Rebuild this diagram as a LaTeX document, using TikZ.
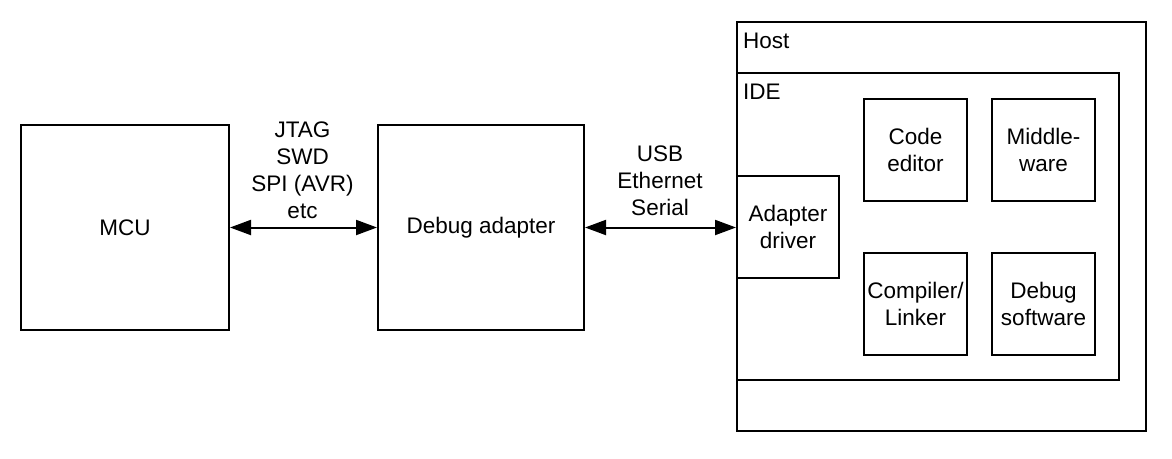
\documentclass[tikz,border=0pt]{standalone}
\usepackage{fontspec}
\setmainfont{Liberation Sans}
\usetikzlibrary{arrows.meta,positioning}
\begin{document}
\begin{tikzpicture}[x=1pt,y=-1pt,
  box/.style={draw=black,line width=2pt,rectangle,inner sep=0pt,align=center,
    font=\fontsize{22.5}{27}\selectfont},
  lbl/.style={inner sep=0pt,align=center,font=\fontsize{22.5}{27}\selectfont},
  link/.style={line width=2pt,{Triangle[length=21pt,width=15pt]}-{Triangle[length=21pt,width=15pt]}}]
\useasboundingbox (0,0) rectangle (1172,458);
% outer containers
\node[box,minimum width=409pt,minimum height=409pt,anchor=north west] (host) at (736,21) {};
\node[lbl,anchor=base west] (hostlbl) at (743,48) {Host};
\node[box,minimum width=382pt,minimum height=307pt,anchor=north west] (ide) at (736,72) {};
\node[lbl,anchor=base west] (idelbl) at (743,99) {IDE};
% inner boxes
\node[box,fill=white,minimum width=102pt,minimum height=102pt,anchor=north west] (drv) at (736,175) {Adapter\\driver};
\node[box,minimum width=103pt,minimum height=102pt,anchor=north west] (code) at (863,98) {Code\\editor};
\node[box,minimum width=103pt,minimum height=102pt,anchor=north west] (mid) at (991,98) {Middle-\\ware};
\node[box,minimum width=103pt,minimum height=102pt,anchor=north west] (comp) at (863,252) {Compiler/\\Linker};
\node[box,minimum width=103pt,minimum height=102pt,anchor=north west] (dbg) at (991,252) {Debug\\software};
% left blocks
\node[box,minimum width=208pt,minimum height=205pt,anchor=north west] (mcu) at (20,124) {MCU};
\node[box,minimum width=206pt,minimum height=205pt,anchor=north west] (adp) at (377,124) {Debug adapter};
% connectors
\draw[link] (mcu.east) -- (adp.west);
\draw[link] (adp.east) -- (adp.east -| drv.west);
% labels
\node[lbl] (l1) at (302.5,170) {JTAG\\SWD\\SPI (AVR)\\etc};
\node[lbl] (l2) at (660,181) {USB\\Ethernet\\Serial};
\end{tikzpicture}
\end{document}
